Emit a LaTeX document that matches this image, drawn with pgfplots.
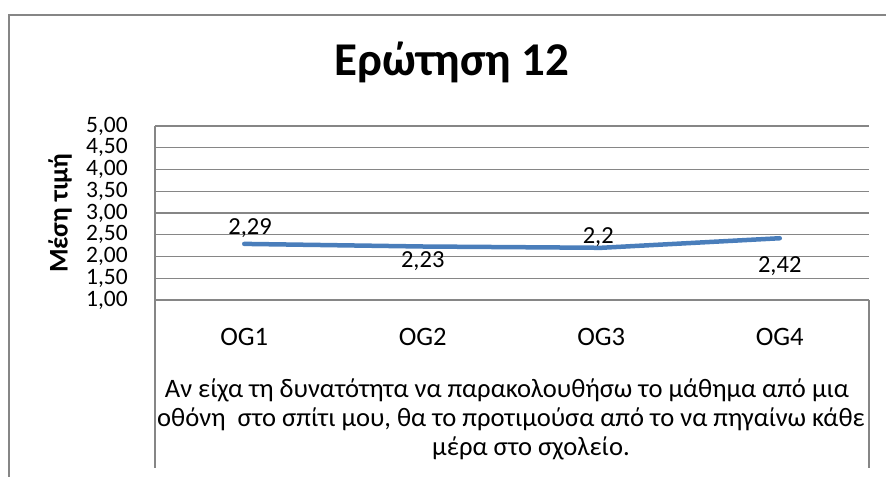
\documentclass[border=0pt]{standalone}
\usepackage{fontspec}
\setmainfont{Carlito}
\usepackage{pgfplots}
\usepackage{pgfplotstable}
\pgfplotsset{compat=1.18}
\definecolor{gridgray}{RGB}{134,134,134}
\definecolor{lineblue}{RGB}{74,126,187}
\pgfplotstableread{
x y dx dy lab
0 2.29 5.8 8.9 2,29
1 2.23 0 -21.5 2,23
2 2.20 -3 4.8 2,2
3 2.42 0 -33.9 2,42
}\datatable
\begin{document}
\begin{tikzpicture}[x=1bp,y=1bp,font=\fontsize{23.5bp}{28bp}\selectfont]
\path[use as bounding box] (0bp,0bp) rectangle (886bp,-477bp);
% outer chart border (left and top visible)
\draw[gridgray, line width=2bp] (9bp,-477bp) -- (9bp,-15bp) -- (886bp,-15bp);
\begin{axis}[
  at={(155bp,-300bp)}, anchor=south west,
  scale only axis, width=714bp, height=174bp,
  xmin=-0.5, xmax=3.5, ymin=1, ymax=5,
  xtick=data, xticklabels={OG1,OG2,OG3,OG4},
  ytick={1,1.5,...,5},
  major tick length=0pt,
  axis line style={gridgray, line width=1.3bp},
  axis x line*=bottom, axis y line*=left,
  ymajorgrids, grid style={gridgray, line width=1.3bp},
  /pgf/number format/.cd, fixed, fixed zerofill, precision=2, use comma, assume math mode=true,
  /pgfplots/.cd,
  yticklabel style={anchor=east, inner sep=0pt, xshift=-27bp},
  xticklabel style={anchor=base, inner sep=0pt, yshift=-45bp, font=\fontsize{26.6bp}{30bp}\selectfont},
  title={\bfseries\fontsize{47bp}{56bp}\selectfont Ερώτηση 12},
  title style={at={(axis description cs:0.416,1)}, anchor=base, inner sep=0pt, yshift=45bp},
  ylabel={\bfseries\fontsize{27bp}{32bp}\selectfont Μέση τιμή},
  every axis y label/.style={at={(axis description cs:0,0.5)}, xshift=-95bp, rotate=90, anchor=center, inner sep=0pt},
  clip=false,
]
\addplot[lineblue, line width=4.5bp, line cap=round, line join=round,
  point meta=explicit symbolic,
  nodes near coords,
  visualization depends on={\thisrow{dx} \as \dx},
  visualization depends on={\thisrow{dy} \as \dy},
  every node near coord/.append style={anchor=base, inner sep=0pt, xshift=\dx bp, yshift=\dy bp, text=black, font=\fontsize{24.5bp}{28bp}\selectfont},
] table[x=x, y=y, meta=lab] {\datatable};
\end{axis}
% category box of the multi-level axis
\draw[gridgray, line width=1.3bp] (155bp,-300bp) -- (155bp,-468bp);
\draw[gridgray, line width=1.3bp] (869bp,-300bp) -- (869bp,-468bp);
\begin{scope}[font=\fontsize{26.6bp}{30bp}\selectfont]
\node[anchor=base, inner sep=0pt] at (507bp,-397bp) {Αν είχα τη δυνατότητα να παρακολουθήσω το μάθημα από μια};
\node[anchor=base, inner sep=0pt] at (511bp,-426bp) {οθόνη\ \ στο σπίτι μου, θα το προτιμούσα από το να πηγαίνω κάθε};
\node[anchor=base, inner sep=0pt] at (531bp,-455bp) {μέρα στο σχολείο.};
\end{scope}
\end{tikzpicture}
\end{document}
